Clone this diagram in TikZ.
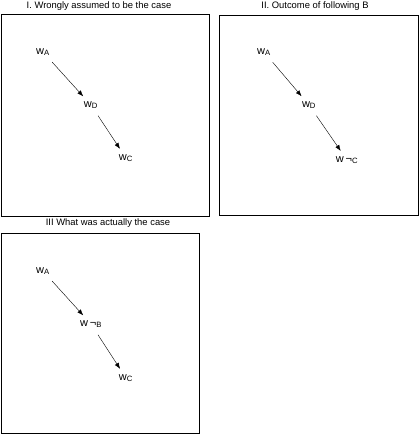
\documentclass[tikz,border=0pt]{standalone}
\usepackage{fontspec}
\setmainfont{Liberation Sans}
\usetikzlibrary{arrows.meta,arrows}
\usetikzlibrary{positioning}
\tikzset{>=latex}
\tikzset{
  world/.style={inner sep=1pt, font=\fontsize{11}{13}\selectfont},
  title/.style={inner sep=0pt, font=\fontsize{9.4}{11}\selectfont},
  panel/.style={line width=0.8pt},
  move/.style={-{Latex[length=6pt,width=4.5pt]}, thin, shorten <=7pt, shorten >=5pt}
}

\begin{document}
\begin{tikzpicture}[x=1pt,y=-1pt]
\useasboundingbox (0,0) rectangle (420,434);

% Panel I
\draw[panel] (1,14) rectangle (209,216);
\node[title] (tI) at (99,6) {I. Wrongly assumed to be the case};
\node[world] (aI) at (43,52) {w\textsubscript{A}};
\node[world] (dI) at (91,105) {w\textsubscript{D}};
\node[world] (cI) at (126,158) {w\textsubscript{C}};
\draw[move] (aI) -- (dI);
\draw[move] (dI) -- (cI);

% Panel II
\draw[panel] (219,15) rectangle (418,215);
\node[title] (tII) at (315,6) {II. Outcome of following B};
\node[world] (aII) at (264,52) {w\textsubscript{A}};
\node[world] (dII) at (309,105) {w\textsubscript{D}};
\node[world] (cII) at (347,160) {w\,¬\textsubscript{C}};
\draw[move] (aII) -- (dII);
\draw[move] (dII) -- (cII);

% Panel III
\draw[panel] (1,233) rectangle (199,433);
\node[title] (tIII) at (108,223) {III What was actually the case};
\node[world] (aIII) at (43,271) {w\textsubscript{A}};
\node[world] (bIII) at (91,324) {w\,¬\textsubscript{B}};
\node[world] (cIII) at (126,378) {w\textsubscript{C}};
\draw[move] (aIII) -- (bIII);
\draw[move] (bIII) -- (cIII);

\end{tikzpicture}
\end{document}
